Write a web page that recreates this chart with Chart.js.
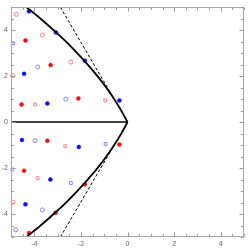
<!DOCTYPE html>
<html><head><meta charset="utf-8">
<script src="https://cdn.jsdelivr.net/npm/chart.js@4"></script>
<style>html,body{margin:0;padding:0;background:#fff;overflow:hidden}</style>
</head><body>
<canvas id="c" width="249" height="250"></canvas>
<script>
// Boundary curve (upper branch; lower branch is its mirror)
const curveYUpper = [0, 0.5, 1, 1.5, 2, 2.5, 3, 3.5, 4, 4.5, 5];
const curveYLower = [0, -0.5, -1, -1.5, -2, -2.5, -3, -3.5, -4, -4.5, -5];
const curveX = [0, -0.27, -0.57, -0.91, -1.29, -1.71, -2.16, -2.64, -3.17, -3.73, -4.34];
// Dashed straight lines
const dashX = [0, -2.88];
const dashYUpper = [0, 5];
const dashYLower = [0, -5];
// Horizontal axis segment
const axisLineX = [-5, 0];
const axisLineY = [0, 0];
// Markers
const blueFilledX = [-4.23, -3.07, -1.83, -0.35, -4.44, -3.44, -4.53, -2.09, -3.31, -4.38];
const blueFilledY = [4.82, 3.90, 2.67, 0.94, 2.10, 0.81, -0.78, -1.08, -2.50, -3.58];
const redFilledX = [-4.38, -3.30, -4.55, -2.11, -3.44, -0.35, -4.44, -1.83, -3.09, -4.23];
const redFilledY = [3.55, 2.48, 0.77, 1.03, -0.81, -0.98, -2.12, -2.71, -3.95, -4.83];
const redOpenCircleX = [-4.77, -3.65, -4.93, -2.43, -4.91];
const redOpenCircleY = [4.69, 3.79, 2.02, 2.61, -3.48];
const blueOpenCircleX = [-3.85, -2.65, -3.97, -3.66, -4.80];
const blueOpenCircleY = [2.40, 1.00, -0.81, -3.82, -4.69];
const redOpenSquareX = [-3.97, -0.96, -2.67, -3.86];
const redOpenSquareY = [0.77, 0.94, -1.05, -2.44];
const blueOpenSquareX = [-4.90, -0.94, -4.94, -2.43];
const blueOpenSquareY = [3.43, -0.95, -2.06, -2.65];
// Ticks
const majorTicks = [-4, -2, 0, 2, 4];
const minorTicks = [-5, -4.5, -4, -3.5, -3, -2.5, -2, -1.5, -1, -0.5, 0, 0.5, 1, 1.5, 2, 2.5, 3, 3.5, 4, 4.5, 5];

const pts = (xs, ys) => xs.map((x, i) => ({x, y: ys[i]}));

function lineDs(xs, ys, opts) {
  return Object.assign({data: pts(xs, ys), showLine: true, pointRadius: 0, borderColor: '#000', fill: false}, opts);
}
function markDs(xs, ys, color, style, filled) {
  return {data: pts(xs, ys), showLine: false, pointStyle: style, pointRadius: 2,
    pointBackgroundColor: filled ? color : 'rgba(0,0,0,0)', pointBorderColor: color,
    pointBorderWidth: filled ? 0.5 : 0.9, clip: 4};
}

const framePlugin = {
  id: 'frame',
  afterDatasetsDraw(chart) {
    const {ctx, chartArea: a, scales: {x, y}} = chart;
    ctx.save();
    const L = Math.round(a.left) + 0.5, R = Math.round(a.right) - 0.5;
    const T = Math.round(a.top) + 0.5, B = Math.round(a.bottom) - 0.5;
    ctx.strokeStyle = '#aaa';
    ctx.lineWidth = 1;
    ctx.strokeRect(L, T, R - L, B - T);
    ctx.strokeStyle = '#999';
    ctx.beginPath();
    minorTicks.forEach(v => {
      const len = majorTicks.includes(v) ? 4 : 2.5;
      const px = Math.round(x.getPixelForValue(v)) + 0.5;
      ctx.moveTo(px, B); ctx.lineTo(px, B - len);
      ctx.moveTo(px, T); ctx.lineTo(px, T + len);
      const py = Math.round(y.getPixelForValue(v)) + 0.5;
      ctx.moveTo(L, py); ctx.lineTo(L + len, py);
      ctx.moveTo(R, py); ctx.lineTo(R - len, py);
    });
    ctx.stroke();
    ctx.restore();
  }
};

const tickFont = {family: '"Liberation Sans", "DejaVu Sans", sans-serif', size: 7};
const setTicks = s => { s.ticks = majorTicks.map(v => ({value: v})); };

new Chart(document.getElementById('c'), {
  type: 'scatter',
  data: {
    datasets: [
      lineDs(axisLineX, axisLineY, {borderWidth: 1.5}),
      lineDs(dashX, dashYUpper, {borderWidth: 1, borderDash: [3, 2]}),
      lineDs(dashX, dashYLower, {borderWidth: 1, borderDash: [3, 2]}),
      lineDs(curveX, curveYUpper, {borderWidth: 1.8, tension: 0.3}),
      lineDs(curveX, curveYLower, {borderWidth: 1.8, tension: 0.3}),
      markDs(redOpenCircleX, redOpenCircleY, '#f07a7a', 'circle', false),
      markDs(blueOpenCircleX, blueOpenCircleY, '#7a7af5', 'circle', false),
      markDs(redOpenSquareX, redOpenSquareY, '#f07a7a', 'rect', false),
      markDs(blueOpenSquareX, blueOpenSquareY, '#7a7af5', 'rect', false),
      markDs(blueFilledX, blueFilledY, '#1010f0', 'circle', true),
      markDs(redFilledX, redFilledY, '#f01010', 'circle', true)
    ]
  },
  options: {
    responsive: false,
    animation: false,
    layout: {padding: {top: 1, right: 1, left: 0, bottom: 0}},
    plugins: {legend: {display: false}, tooltip: {enabled: false}},
    scales: {
      x: {type: 'linear', min: -5, max: 5,
        grid: {display: false, drawTicks: false}, border: {display: false},
        ticks: {padding: 3, font: tickFont, color: '#666', maxRotation: 0, autoSkip: false},
        afterBuildTicks: setTicks, afterFit: s => { s.height = 13; }},
      y: {type: 'linear', min: -5, max: 5,
        grid: {display: false, drawTicks: false}, border: {display: false},
        ticks: {padding: 3, font: tickFont, color: '#666', autoSkip: false},
        afterBuildTicks: setTicks, afterFit: s => { s.width = 11; }}
    }
  },
  plugins: [framePlugin]
});
</script>
</body></html>
